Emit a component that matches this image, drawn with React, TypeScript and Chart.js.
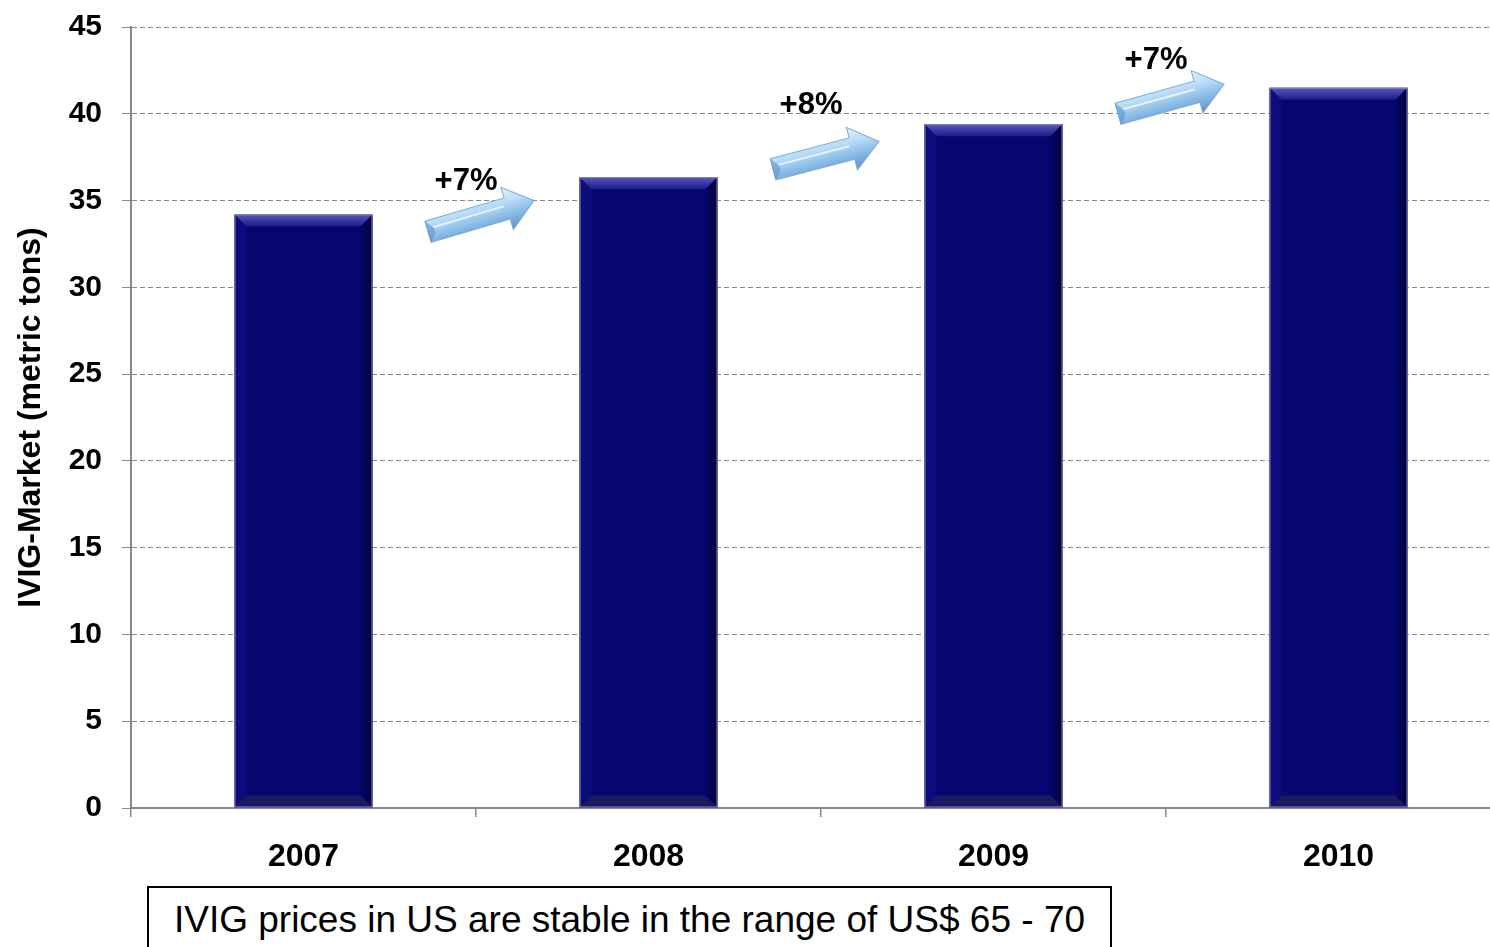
import React, { useEffect, useRef } from 'react';
import { Chart, registerables } from 'chart.js';

Chart.register(...registerables);

const years = ['2007', '2008', '2009', '2010'];
const marketTons = [34.2, 36.35, 39.4, 41.5];
const growthLabels = ['+7%', '+8%', '+7%'];
const arrowTailLevel = [33.2, 36.8, 40.0];
const arrowTipLevel = [35.0, 38.4, 41.7];
const growthLabelLevel = [36.1, 40.5, 43.05];
const yTitle = 'IVIG-Market (metric tons)';
const note = 'IVIG prices in US are stable in the range of US$ 65 - 70';

const FONT = '"Liberation Sans", Arial, sans-serif';

const bevelPlugin = {
  id: 'bevel',
  afterDatasetsDraw(chart: any) {
    const ctx = chart.ctx as CanvasRenderingContext2D;
    const meta = chart.getDatasetMeta(0);
    meta.data.forEach((bar: any) => {
      const { x, y, base, width } = bar.getProps(['x', 'y', 'base', 'width'], true);
      const l = x - width / 2;
      const r = x + width / 2;
      const t = y;
      const b = base;
      const d = 12;
      ctx.save();
      let g = ctx.createLinearGradient(0, t, 0, t + d);
      g.addColorStop(0, '#5858b8');
      g.addColorStop(1, '#1c1c8c');
      ctx.fillStyle = g;
      ctx.beginPath();
      ctx.moveTo(l, t);
      ctx.lineTo(r, t);
      ctx.lineTo(r - d, t + d);
      ctx.lineTo(l + d, t + d);
      ctx.closePath();
      ctx.fill();
      g = ctx.createLinearGradient(r - d, 0, r, 0);
      g.addColorStop(0, '#04046a');
      g.addColorStop(1, '#02023a');
      ctx.fillStyle = g;
      ctx.beginPath();
      ctx.moveTo(r, t);
      ctx.lineTo(r, b);
      ctx.lineTo(r - d, b - d);
      ctx.lineTo(r - d, t + d);
      ctx.closePath();
      ctx.fill();
      ctx.fillStyle = '#0c0c7c';
      ctx.beginPath();
      ctx.moveTo(l, t);
      ctx.lineTo(l + d, t + d);
      ctx.lineTo(l + d, b - d);
      ctx.lineTo(l, b);
      ctx.closePath();
      ctx.fill();
      ctx.fillStyle = '#1a1a62';
      ctx.beginPath();
      ctx.moveTo(l, b);
      ctx.lineTo(l + d, b - d);
      ctx.lineTo(r - d, b - d);
      ctx.lineTo(r, b);
      ctx.closePath();
      ctx.fill();
      ctx.strokeStyle = '#8a8ab8';
      ctx.lineWidth = 1;
      ctx.strokeRect(l + 0.5, t + 0.5, width - 1, b - t - 1);
      ctx.restore();
    });
  },
};

const arrowPlugin = {
  id: 'growthArrows',
  afterDraw(chart: any) {
    const ctx = chart.ctx as CanvasRenderingContext2D;
    const xs = chart.scales.x;
    const ys = chart.scales.y;
    for (let i = 0; i < growthLabels.length; i++) {
      const boundary = (xs.getPixelForValue(i) + xs.getPixelForValue(i + 1)) / 2;
      const x0 = boundary - 48;
      const x1 = boundary + 58;
      const y0 = ys.getPixelForValue(arrowTailLevel[i]);
      const y1 = ys.getPixelForValue(arrowTipLevel[i]);
      const L = Math.hypot(x1 - x0, y1 - y0);
      const ang = Math.atan2(y1 - y0, x1 - x0);
      const h = 11;
      const H = 22;
      const hl = 28;
      ctx.save();
      ctx.translate(x0, y0);
      ctx.rotate(ang);
      const g = ctx.createLinearGradient(0, -H, 0, H);
      g.addColorStop(0, '#e2f1fd');
      g.addColorStop(0.35, '#b7dbf7');
      g.addColorStop(0.6, '#8ec0ea');
      g.addColorStop(1, '#5b8fc4');
      ctx.fillStyle = g;
      ctx.beginPath();
      ctx.moveTo(0, -h);
      ctx.lineTo(L - hl, -h);
      ctx.lineTo(L - hl, -H);
      ctx.lineTo(L, 0);
      ctx.lineTo(L - hl, H);
      ctx.lineTo(L - hl, h);
      ctx.lineTo(0, h);
      ctx.closePath();
      ctx.fill();
      ctx.strokeStyle = '#7fa9d4';
      ctx.lineWidth = 1;
      ctx.stroke();
      ctx.fillStyle = 'rgba(90,140,200,0.55)';
      ctx.beginPath();
      ctx.moveTo(0, -h);
      ctx.lineTo(7, -2);
      ctx.lineTo(7, 3);
      ctx.lineTo(0, h);
      ctx.closePath();
      ctx.fill();
      ctx.strokeStyle = 'rgba(255,255,255,0.7)';
      ctx.lineWidth = 2;
      ctx.beginPath();
      ctx.moveTo(6, -3);
      ctx.lineTo(L - hl - 2, -3);
      ctx.stroke();
      ctx.restore();

      ctx.save();
      ctx.fillStyle = '#000';
      ctx.font = `bold 31px ${FONT}`;
      ctx.textAlign = 'center';
      ctx.textBaseline = 'middle';
      ctx.fillText(growthLabels[i], boundary - 10, ys.getPixelForValue(growthLabelLevel[i]));
      ctx.restore();
    }
  },
};

export default function App() {
  const ref = useRef<HTMLCanvasElement | null>(null);

  useEffect(() => {
    if (!ref.current) return;
    const chart = new Chart(ref.current, {
      type: 'bar',
      data: {
        labels: years,
        datasets: [
          {
            data: marketTons,
            backgroundColor: '#06066f',
            borderWidth: 0,
            barPercentage: 0.4,
            categoryPercentage: 1,
          },
        ],
      },
      options: {
        animation: false,
        responsive: false,
        devicePixelRatio: 1,
        layout: { padding: { top: 27, right: 19, bottom: 0, left: 0 } },
        plugins: {
          legend: { display: false },
          tooltip: { enabled: false },
        },
        scales: {
          x: {
            grid: {
              display: true,
              drawOnChartArea: false,
              offset: true,
              color: '#888888',
              lineWidth: 1.5,
              tickLength: 9,
            },
            border: { display: true, color: '#888888', width: 2 },
            ticks: {
              color: '#000',
              font: { family: FONT, size: 32, weight: 'bold' },
              padding: 21,
              maxRotation: 0,
            },
            afterFit: (s: any) => {
              s.height = 139;
              s.paddingLeft = 0;
              s.paddingRight = 0;
            },
          },
          y: {
            min: 0,
            max: 45,
            ticks: {
              stepSize: 5,
              color: '#000',
              font: { family: FONT, size: 30, weight: 'bold' },
              padding: 20,
            },
            grid: { color: '#888888', lineWidth: 1, tickLength: 9 },
            border: { display: true, color: '#888888', width: 2, dash: [5, 3] },
            title: {
              display: true,
              text: yTitle,
              color: '#000',
              font: { family: FONT, size: 32, weight: 'bold' },
              padding: { top: 12, bottom: 0 },
            },
            afterFit: (s: any) => {
              s.width = 131;
              s.paddingTop = 0;
              s.paddingBottom = 0;
            },
          },
        },
      },
      plugins: [bevelPlugin, arrowPlugin],
    } as any);
    return () => chart.destroy();
  }, []);

  return (
    <div
      style={{
        position: 'absolute',
        left: 0,
        top: 0,
        width: 1490,
        height: 947,
        overflow: 'hidden',
        background: '#fff',
      }}
    >
      <canvas ref={ref} width={1530} height={947} style={{ display: 'block' }} />
      <div
        style={{
          position: 'absolute',
          left: 147,
          top: 886,
          width: 965,
          height: 90,
          boxSizing: 'border-box',
          border: '2px solid #000',
          background: '#fff',
          fontFamily: FONT,
          fontSize: 37,
          lineHeight: '64px',
          textAlign: 'center',
          color: '#000',
          whiteSpace: 'nowrap',
        }}
      >
        {note}
      </div>
    </div>
  );
}
